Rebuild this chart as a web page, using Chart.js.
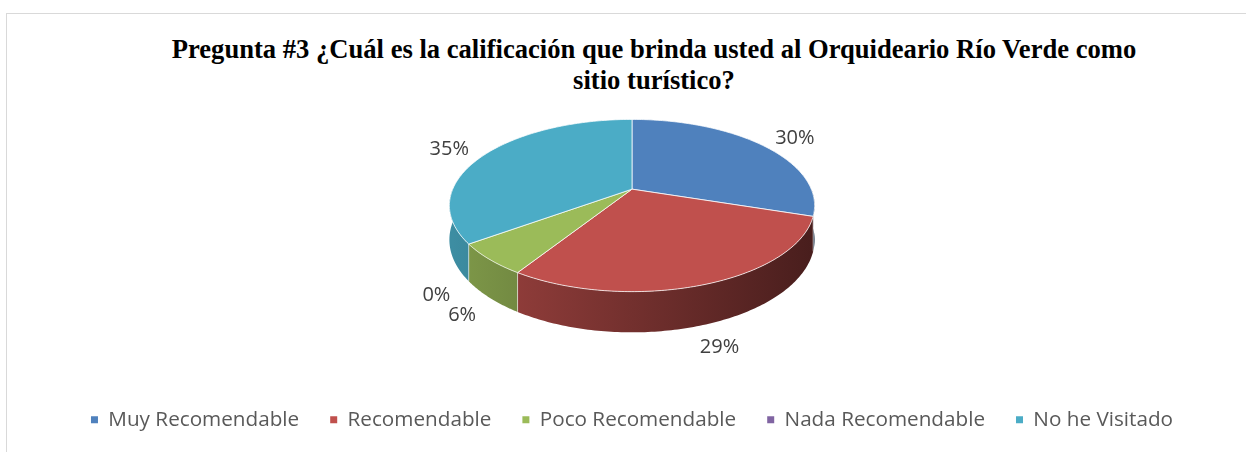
<!DOCTYPE html>
<html><head><meta charset="utf-8">
<script src="https://cdn.jsdelivr.net/npm/chart.js@4.4.1/dist/chart.umd.min.js"></script>
<style>
html,body{margin:0;padding:0;background:#fff;overflow:hidden;}
#wrap{position:relative;width:1246px;height:452px;}
#frame{position:absolute;left:6px;top:13px;width:1260px;height:460px;border-top:1.5px solid #d9d9d9;border-left:1.5px solid #d9d9d9;}
#title{position:absolute;left:0;width:1308px;top:34px;text-align:center;font-family:"Liberation Serif","Times New Roman",serif;font-weight:bold;font-size:26.6px;color:#000;line-height:31px;}
canvas{position:absolute;left:0;top:0;}
</style></head>
<body>
<div id="wrap">
  <div id="frame"></div>
  <div id="title">Pregunta #3 ¿Cuál es la calificación que brinda usted al Orquideario Río Verde como<br>sitio turístico?</div>
  <canvas id="c" width="1246" height="452"></canvas>
</div>
<script>
const categories = ['Muy Recomendable', 'Recomendable', 'Poco Recomendable', 'Nada Recomendable', 'No he Visitado'];
const percentages = [30, 29, 6, 0, 35];
const sliceColors = ['#4F81BD', '#C0504D', '#9BBB59', '#8064A2', '#4BACC6'];

function shade(hex, f) {
  const n = parseInt(hex.slice(1), 16);
  const r = Math.round(((n >> 16) & 255) * f), g = Math.round(((n >> 8) & 255) * f), b = Math.round((n & 255) * f);
  return `rgb(${r},${g},${b})`;
}

const pie3d = {
  id: 'pie3d',
  beforeDatasetsDraw(chart, args, opts) {
    const meta = chart.getDatasetMeta(0);
    const ctx = chart.ctx;
    const els = meta.data;
    const cx = els[0].x, cy = els[0].y;
    const ry = els[0].outerRadius;
    const rx = ry * opts.aspect;
    const k = opts.persp;
    const depth = opts.depth;
    const P = (a, f = 1) => {
      const s = 1 / (1 - k * Math.sin(a));
      return [cx + rx * f * Math.cos(a) * s, cy + ry * f * Math.sin(a) * s, s];
    };
    const steps = 120;
    ctx.save();
    // side walls (front half only)
    els.forEach((el, i) => {
      const b0 = Math.max(el.startAngle, 0), b1 = Math.min(el.endAngle, Math.PI);
      if (b1 <= b0) return;
      const g = ctx.createLinearGradient(cx - rx, 0, cx + rx, 0);
      g.addColorStop(0, shade(sliceColors[i], opts.sideLight));
      g.addColorStop(1, shade(sliceColors[i], opts.sideDark));
      ctx.beginPath();
      for (let j = 0; j <= steps; j++) {
        const a = b0 + (b1 - b0) * j / steps;
        const p = P(a);
        if (j === 0) ctx.moveTo(p[0], p[1]); else ctx.lineTo(p[0], p[1]);
      }
      for (let j = steps; j >= 0; j--) {
        const a = b0 + (b1 - b0) * j / steps;
        const p = P(a);
        ctx.lineTo(p[0], p[1] + depth * p[2]);
      }
      ctx.closePath();
      ctx.fillStyle = g;
      ctx.fill();
    });
    // boundary lines on the side
    ctx.strokeStyle = 'rgba(255,255,255,0.55)';
    ctx.lineWidth = 1;
    els.forEach((el) => {
      const a = el.startAngle;
      if (Math.sin(a) > 0.02 && el.circumference > 0) {
        const p = P(a);
        ctx.beginPath();
        ctx.moveTo(p[0], p[1]);
        ctx.lineTo(p[0], p[1] + depth * p[2]);
        ctx.stroke();
      }
    });
    // top faces
    els.forEach((el, i) => {
      if (el.circumference <= 0) return;
      ctx.beginPath();
      ctx.moveTo(cx, cy);
      for (let j = 0; j <= steps; j++) {
        const a = el.startAngle + (el.endAngle - el.startAngle) * j / steps;
        const p = P(a);
        ctx.lineTo(p[0], p[1]);
      }
      ctx.closePath();
      ctx.fillStyle = sliceColors[i];
      ctx.fill();
      ctx.strokeStyle = 'rgba(255,255,255,0.75)';
      ctx.lineWidth = 1;
      ctx.lineJoin = 'round';
      ctx.stroke();
    });
    // labels
    ctx.fillStyle = '#404040';
    ctx.font = opts.labelFont;
    ctx.textAlign = 'center';
    ctx.textBaseline = 'middle';
    els.forEach((el, i) => {
      const m = (el.startAngle + el.endAngle) / 2;
      const p = P(m);
      let x = p[0], y = p[1];
      const front = Math.sin(m) > 0;
      if (front) y += depth * p[2];
      x += Math.cos(m) * opts.labelDx;
      y += Math.sin(m) * (front ? opts.labelDyFront : opts.labelDyBack);
      ctx.fillText(percentages[i] + '%', x, y);
    });
    ctx.restore();
    return false;
  }
};

const chart = new Chart(document.getElementById('c'), {
  type: 'pie',
  data: {
    labels: categories,
    datasets: [{
      data: percentages,
      backgroundColor: sliceColors,
      borderWidth: 0,
      radius: 83
    }]
  },
  options: {
    responsive: false,
    animation: false,
    layout: { padding: { top: 0, bottom: 12, left: 18, right: 0 } },
    plugins: {
      title: { display: false },
      tooltip: { enabled: false },
      legend: {
        position: 'bottom',
        labels: {
          usePointStyle: true,
          pointStyle: 'rect',
          boxHeight: 7,
          boxWidth: 7,
          padding: 31,
          color: '#595959',
          font: { family: 'Open Sans', size: 20.7 }
        }
      },
      pie3d: { aspect: 2.16, persp: 0.19, depth: 33, sideLight: 0.82, sideDark: 0.38, labelDx: 40, labelDyFront: 24, labelDyBack: 12, labelFont: '20px "Open Sans"' }
    }
  },
  plugins: [pie3d]
});
</script>
</body></html>
